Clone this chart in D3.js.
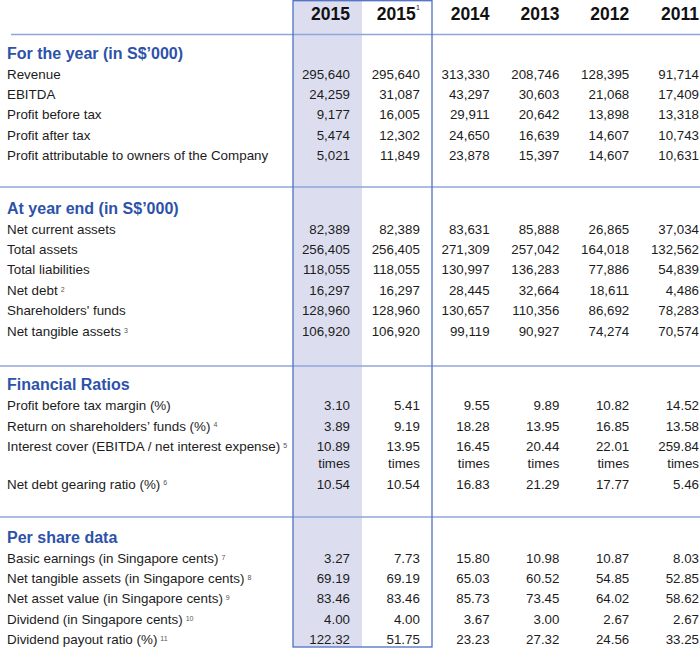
<!DOCTYPE html>
<html><head><meta charset="utf-8">
<script src="https://cdn.jsdelivr.net/npm/d3@7"></script>
<style>
html,body{margin:0;padding:0;background:#fff;}
svg{display:block;font-family:"Liberation Sans",Arial,Helvetica,sans-serif;}
</style></head>
<body>
<svg id="chart" width="700" height="649"></svg>
<script>
// ---------- DATA ----------
const columns = ["2015", "2015¹", "2014", "2013", "2012", "2011"];
const columnNotes = ["", "1", "", "", "", ""];
const columnLabels = ["2015", "2015", "2014", "2013", "2012", "2011"];

const sectionTitles = ["For the year (in S$\u2019000)", "At year end (in S$\u2019000)", "Financial Ratios", "Per share data"];

const rowLabels = [
  ["Revenue", "EBITDA", "Profit before tax", "Profit after tax", "Profit attributable to owners of the Company"],
  ["Net current assets", "Total assets", "Total liabilities", "Net debt", "Shareholders' funds", "Net tangible assets"],
  ["Profit before tax margin (%)", "Return on shareholders\u2019 funds (%)", "Interest cover (EBITDA / net interest expense)", "Net debt gearing ratio (%)"],
  ["Basic earnings (in Singapore cents)", "Net tangible assets (in Singapore cents)", "Net asset value (in Singapore cents)", "Dividend (in Singapore cents)", "Dividend payout ratio (%)"]
];
const rowNotes = [
  ["", "", "", "", ""],
  ["", "", "", "2", "", "3"],
  ["", "4", "5", "6"],
  ["7", "8", "9", "10", "11"]
];
const rowUnits = [
  ["", "", "", "", ""],
  ["", "", "", "", "", ""],
  ["", "", "times", ""],
  ["", "", "", "", ""]
];

// values: one array per column, rows in order within each section
const values2015 = [
  [295640, 24259, 9177, 5474, 5021],
  [82389, 256405, 118055, 16297, 128960, 106920],
  [3.10, 3.89, 10.89, 10.54],
  [3.27, 69.19, 83.46, 4.00, 122.32]
];
const values2015r = [
  [295640, 31087, 16005, 12302, 11849],
  [82389, 256405, 118055, 16297, 128960, 106920],
  [5.41, 9.19, 13.95, 10.54],
  [7.73, 69.19, 83.46, 4.00, 51.75]
];
const values2014 = [
  [313330, 43297, 29911, 24650, 23878],
  [83631, 271309, 130997, 28445, 130657, 99119],
  [9.55, 18.28, 16.45, 16.83],
  [15.80, 65.03, 85.73, 3.67, 23.23]
];
const values2013 = [
  [208746, 30603, 20642, 16639, 15397],
  [85888, 257042, 136283, 32664, 110356, 90927],
  [9.89, 13.95, 20.44, 21.29],
  [10.98, 60.52, 73.45, 3.00, 27.32]
];
const values2012 = [
  [128395, 21068, 13898, 14607, 14607],
  [26865, 164018, 77886, 18611, 86692, 74274],
  [10.82, 16.85, 22.01, 17.77],
  [10.87, 54.85, 64.02, 2.67, 24.56]
];
const values2011 = [
  [91714, 17409, 13318, 10743, 10631],
  [37034, 132562, 54839, 4486, 78283, 70574],
  [14.52, 13.58, 259.84, 5.46],
  [8.03, 52.85, 58.62, 2.67, 33.25]
];
const columnValues = [values2015, values2015r, values2014, values2013, values2012, values2011];
const sectionFormats = [",", ",", ".2f", ".2f"];

// ---------- LAYOUT ----------
const W = 700, H = 649;
const svg = d3.select("#chart");
const blue = "#2d52a9";
const boxBlue = "#4f6fc6";
const lineBlue = "#8ea7da";
const ink = "#1c1c1c";

const x = d3.scalePoint().domain(columns).range([350, 699]);
const sectionLineY = [34.5, 187, 366, 517];
const sectionHeadY = [53, 208, 384.5, 537];
const rowStep = 20.4, unitStep = 17.2;

// compute row centres
const rowY = sectionTitles.map((t, s) => {
  let y = sectionHeadY[s] + 21;
  return rowLabels[s].map((lab, i) => {
    const cy = y;
    y += rowStep + (rowUnits[s][i] ? unitStep : 0);
    return cy;
  });
});

// shaded column
svg.append("rect").attr("x", 293).attr("y", 0).attr("width", 69).attr("height", 647)
  .attr("fill", "#dcdef0");

// section lines
sectionLineY.forEach((ly, s) => {
  svg.append("line").attr("x1", s === 0 ? 11 : 0).attr("x2", W)
    .attr("y1", ly).attr("y2", ly)
    .attr("stroke", lineBlue).attr("stroke-width", 1.3);
});

// box
svg.append("rect").attr("x", 293).attr("y", 0.7).attr("width", 139).attr("height", 646.3)
  .attr("fill", "none").attr("stroke", boxBlue).attr("stroke-width", 1.3);

// header
const head = svg.append("g");
columns.forEach((c, i) => {
  head.append("text").attr("x", x(c) - (columnNotes[i] ? 4 : 0)).attr("y", 13.5)
    .attr("dy", "0.36em").attr("text-anchor", "end")
    .attr("font-size", 17.5).attr("font-weight", "bold").attr("fill", "#111")
    .text(columnLabels[i]);
  if (columnNotes[i]) {
    head.append("text").attr("x", x(c)).attr("y", 10).attr("text-anchor", "end")
      .attr("font-size", 7).attr("fill", "#111").text(columnNotes[i]);
  }
});

// sections
sectionTitles.forEach((title, s) => {
  svg.append("text").attr("x", 7).attr("y", sectionHeadY[s]).attr("dy", "0.35em")
    .attr("font-size", 16).attr("font-weight", "bold").attr("fill", blue).text(title);
  const fmt = d3.format(sectionFormats[s]);
  rowLabels[s].forEach((lab, i) => {
    const cy = rowY[s][i];
    const t = svg.append("text").attr("x", 7).attr("y", cy).attr("dy", "0.35em")
      .attr("font-size", 13.4).attr("fill", ink).text(lab);
    if (rowNotes[s][i]) {
      t.append("tspan").attr("font-size", 7).attr("fill", "#555")
        .attr("dy", "-0.45em").attr("dx", 3).text(rowNotes[s][i]);
    }
    columns.forEach((c, ci) => {
      const v = columnValues[ci][s][i];
      svg.append("text").attr("x", x(c)).attr("y", cy).attr("dy", "0.35em")
        .attr("text-anchor", "end").attr("font-size", 13.3).attr("fill", ink).text(fmt(v));
      if (rowUnits[s][i]) {
        svg.append("text").attr("x", x(c)).attr("y", cy + unitStep).attr("dy", "0.35em")
          .attr("text-anchor", "end").attr("font-size", 13.3).attr("fill", ink).text(rowUnits[s][i]);
      }
    });
  });
});
</script>
</body></html>
